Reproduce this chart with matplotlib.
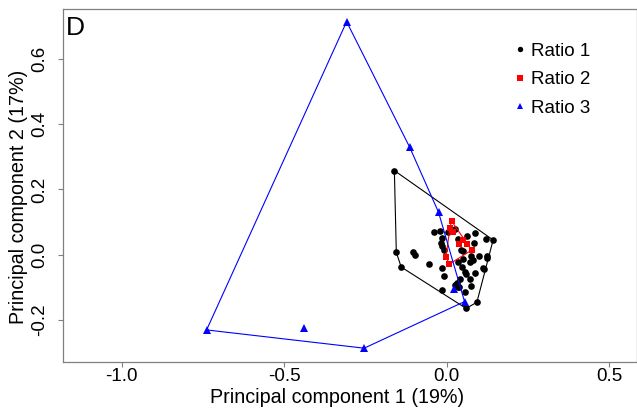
import matplotlib
matplotlib.use("Agg")
import matplotlib.pyplot as plt
from matplotlib.lines import Line2D

plt.rcParams['font.family'] = ['Liberation Sans', 'DejaVu Sans']

# ---- data (PC1, PC2) ----
ratio1_x = [-0.161, -0.155, -0.140, -0.105, -0.096, -0.055, -0.039, -0.021, -0.018, -0.014,
            -0.008, -0.014, -0.009, -0.015, 0.026, 0.045, 0.036, 0.048, 0.055, 0.058,
            0.026, 0.039, 0.042, 0.073, 0.076, 0.086, 0.076, 0.099, 0.085, 0.086,
            0.120, 0.143, 0.124, 0.114, 0.093, 0.060, 0.005, 0.049, 0.082, 0.031,
            -0.015, 0.125, 0.111, 0.036, 0.062, 0.051, 0.072, 0.056, 0.036]
ratio1_y = [0.258, 0.007, -0.038, 0.007, -0.001, -0.029, 0.069, 0.073, 0.035, 0.028,
            0.014, -0.040, -0.064, -0.108, 0.078, 0.014, -0.021, -0.037, -0.052, -0.059,
            -0.093, -0.100, -0.074, -0.076, -0.095, -0.057, -0.004, -0.004, 0.035, 0.068,
            0.048, 0.045, -0.004, -0.045, -0.146, -0.165, 0.069, 0.011, -0.016, -0.088,
            0.052, -0.011, -0.042, 0.048, 0.058, -0.013, -0.021, -0.114, -0.098]

ratio2_x = [0.015, 0.010, 0.020, 0.049, 0.039, 0.062, 0.077, -0.002, 0.008]
ratio2_y = [0.103, 0.083, 0.071, 0.045, 0.032, 0.032, 0.014, -0.006, -0.029]

ratio3_x = [-0.308, -0.114, -0.025, 0.022, 0.055, -0.254, -0.739, -0.440]
ratio3_y = [0.715, 0.330, 0.130, -0.104, -0.144, -0.287, -0.231, -0.226]

labels = ["Ratio 1", "Ratio 2", "Ratio 3"]
x_ticks = [-1.0, -0.5, 0.0, 0.5]
y_ticks = [-0.2, 0.0, 0.2, 0.4, 0.6]


def hull(xs, ys):
    pts = sorted(set(zip(xs, ys)))
    def cross(o, a, b):
        return (a[0]-o[0])*(b[1]-o[1]) - (a[1]-o[1])*(b[0]-o[0])
    lower, upper = [], []
    for p in pts:
        while len(lower) >= 2 and cross(lower[-2], lower[-1], p) <= 0:
            lower.pop()
        lower.append(p)
    for p in reversed(pts):
        while len(upper) >= 2 and cross(upper[-2], upper[-1], p) <= 0:
            upper.pop()
        upper.append(p)
    h = lower[:-1] + upper[:-1]
    h.append(h[0])
    return [p[0] for p in h], [p[1] for p in h]


fig = plt.figure(figsize=(6.37, 4.11), dpi=100)
ax = fig.add_axes([62.7/637, 1-361.7/411, (636.7-62.7)/637, (361.7-9.3)/411])

ax.plot(ratio1_x, ratio1_y, 'o', color='black', markersize=4.8, markeredgewidth=0, zorder=3)
ax.plot(ratio2_x, ratio2_y, 's', color='#ff0000', markersize=4.5, markeredgewidth=0, zorder=4)
ax.plot(ratio3_x, ratio3_y, '^', color='#0000ff', markersize=5.8, markeredgewidth=0, zorder=5)

for xs, ys, c in [(ratio1_x, ratio1_y, 'black'), (ratio2_x, ratio2_y, '#ff0000'),
                  (ratio3_x, ratio3_y, '#0000ff')]:
    hx, hy = hull(xs, ys)
    ax.plot(hx, hy, '-', color=c, linewidth=0.8, zorder=6)

ax.set_xlim(-1.182, 0.585)
ax.set_ylim(-0.3285, 0.753)
ax.set_xticks(x_ticks)
ax.set_yticks(y_ticks)
ax.set_xticklabels([f"{v:.1f}" for v in x_ticks])
ax.set_yticklabels([f"{v:.1f}" for v in y_ticks], rotation=90, va='center')

for s in ax.spines.values():
    s.set_color('#808080')
    s.set_linewidth(0.9)
ax.tick_params(axis='both', colors='#808080', length=3.6, width=0.8, labelsize=13.5,
               labelcolor='black')
ax.tick_params(axis='x', pad=1.0)
ax.tick_params(axis='y', pad=7.0)

fig.text(337.5/637, 1-403.3/411, "Principal component 1 (19%)", ha='center', va='baseline',
         fontsize=14.2)
fig.text(18.5/637, 1-196.5/411, "Principal component 2 (17%)", ha='center', va='center',
         rotation=90, fontsize=14.2)

fig.text(66.3/637, 1-35/411, "D", ha='left', va='baseline', fontsize=19)

handles = [Line2D([], [], marker='o', color='black', linestyle='none', markersize=3.9, markeredgewidth=0),
           Line2D([], [], marker='s', color='#ff0000', linestyle='none', markersize=3.7, markeredgewidth=0),
           Line2D([], [], marker='^', color='#0000ff', linestyle='none', markersize=4.4, markeredgewidth=0)]
ax.legend(handles, labels, loc='upper left', bbox_to_anchor=(501/637, 1-33/411),
          bbox_transform=fig.transFigure, frameon=False, fontsize=13.5,
          handlelength=1.0, handletextpad=0.12, labelspacing=0.62, borderpad=0)

fig.savefig("out.png", dpi=100)
